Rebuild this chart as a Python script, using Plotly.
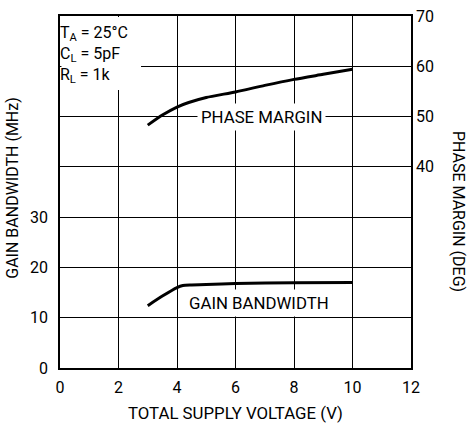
import plotly.graph_objects as go

# Data
supply_v = [3.0, 3.5, 4.0, 4.4, 5.0, 6.0, 7.0, 8.0, 9.0, 10.0]
phase_margin = [48.3, 50.3, 51.9, 52.8, 53.8, 54.9, 56.2, 57.4, 58.4, 59.4]
gbw_v = [3.0, 3.5, 4.0, 4.2, 4.5, 5.0, 6.0, 8.0, 10.0]
gain_bw = [12.4, 14.3, 16.0, 16.4, 16.5, 16.6, 16.8, 16.95, 17.0]

x_ticks = [0, 2, 4, 6, 8, 10, 12]
left_ticks = [0, 10, 20, 30, 40, 50, 60, 70]
left_text = ["0", "10", "20", "30", "", "", "", ""]
right_ticks = [40, 50, 60, 70]

FONT = "Roboto, sans-serif"

fig = go.Figure()
fig.add_trace(go.Scatter(x=gbw_v, y=gain_bw, mode="lines",
                         line=dict(color="black", width=3, shape="spline", smoothing=0.6),
                         yaxis="y", showlegend=False, hoverinfo="skip"))
fig.add_trace(go.Scatter(x=supply_v, y=phase_margin, mode="lines",
                         line=dict(color="black", width=3, shape="spline", smoothing=0.6),
                         yaxis="y2", showlegend=False, hoverinfo="skip"))

fig.update_layout(
    width=467, height=423,
    margin=dict(l=60, r=56, t=16, b=55),
    paper_bgcolor="white", plot_bgcolor="white",
    font=dict(family=FONT, size=16, color="black"),
    xaxis=dict(range=[0, 12], tickvals=x_ticks, showgrid=True, gridcolor="black",
               gridwidth=1, showline=True, mirror=True, linecolor="black", linewidth=1.5,
               ticks="", zeroline=False, tickfont=dict(size=16), automargin=False,
               ticklabelstandoff=4),
    yaxis=dict(range=[0, 70], tickvals=left_ticks, ticktext=left_text, showgrid=True,
               gridcolor="black", gridwidth=1, showline=True, mirror=True, linecolor="black",
               linewidth=1.5, ticks="", zeroline=False, tickfont=dict(size=16),
               automargin=False, ticklabelstandoff=7),
    yaxis2=dict(range=[0, 70], tickvals=right_ticks, overlaying="y", side="right",
                showgrid=False, showline=False, ticks="", zeroline=False,
                tickfont=dict(size=16), automargin=False, ticklabelstandoff=4),
    shapes=[
        dict(type="rect", xref="x", yref="y", x0=0.05, x1=2.77, y0=55.3, y1=69.8,
             fillcolor="white", line=dict(width=0), layer="above"),
    ],
    annotations=[
        dict(text="T<sub>A</sub> = 25°C<br>C<sub>L</sub> = 5pF<br>R<sub>L</sub> = 1k",
             xref="paper", yref="paper", x=-0.006, y=0.985, xanchor="left", yanchor="top",
             align="left", showarrow=False, font=dict(size=16)),
        dict(text="PHASE MARGIN", xref="x", yref="y", x=4.7, y=49.9, xanchor="left",
             yanchor="middle", showarrow=False, bgcolor="white", borderpad=3,
             font=dict(size=16.8)),
        dict(text="GAIN BANDWIDTH", xref="x", yref="y", x=4.26, y=13.0, xanchor="left",
             yanchor="middle", showarrow=False, bgcolor="white", borderpad=3,
             font=dict(size=16.8)),
        dict(text="TOTAL SUPPLY VOLTAGE (V)", xref="paper", yref="paper", x=0.5, y=-0.127,
             xanchor="center", yanchor="middle", showarrow=False, font=dict(size=16.8)),
        dict(text="GAIN BANDWIDTH (MHz)", xref="paper", x=-0.135, xanchor="center",
             yref="paper", y=0.511, yanchor="middle", textangle=-90, showarrow=False,
             font=dict(size=16)),
        dict(text="PHASE MARGIN (DEG)", xref="paper", x=1.137, xanchor="center",
             yref="paper", y=0.446, yanchor="middle", textangle=90, showarrow=False,
             font=dict(size=16)),
    ],
)

fig.write_html("out.html", config={"displayModeBar": False},
               post_script="document.body.style.margin='0';")
